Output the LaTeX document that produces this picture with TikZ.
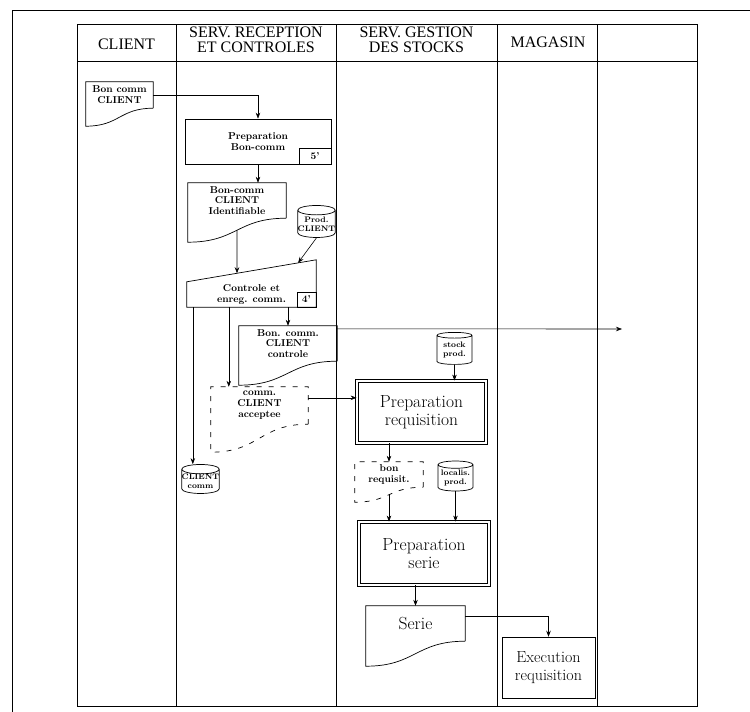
\documentclass[tikz,border=0pt]{standalone}
\usepackage{fontspec}
\newfontfamily\headfont{Liberation Serif}
\usetikzlibrary{calc, positioning}
\usetikzlibrary{arrows.meta}
\usetikzlibrary{shapes.geometric}

% outline of a document symbol round node #2, wave dropping #3 below it
\newcommand{\docoutline}[3][]{%
  \draw[line width=0.7pt, #1] (#2.south east) -- (#2.north east) -- (#2.north west)
    -- ($(#2.south west)+(0,#3)$)
    .. controls ($(#2.south west)!0.5!(#2.south east)+(0,#3)$)
    and ($(#2.south west)!0.5!(#2.south east)$) .. (#2.south east);
}

\begin{document}
\begin{tikzpicture}[x=1pt,y=-1pt,
  lane/.style={line width=0.9pt},
  flow/.style={line width=0.6pt, -{Stealth[length=6pt,width=4.5pt]}},
  headtxt/.style={font=\headfont\fontsize{16}{14.5}\selectfont, align=center},
  smalltxt/.style={font=\fontsize{10}{10.8}\selectfont\bfseries, align=center},
  bigtxt/.style={font=\fontsize{17.5}{18}\selectfont, align=center},
  docnode/.style={smalltxt, inner sep=0pt},
  procbox/.style={smalltxt, draw, line width=0.7pt, inner sep=0pt},
  timebox/.style={smalltxt, draw, line width=0.7pt, inner sep=0pt,
    minimum width=32pt, minimum height=16pt, anchor=south east},
  bigbox/.style={bigtxt, draw, double, double distance=2.5pt, line width=0.8pt, inner sep=0pt},
  store/.style={cylinder, shape border rotate=90, aspect=0.25, draw, line width=0.7pt,
    inner sep=0pt, align=center, font=\fontsize{8}{8.8}\selectfont\bfseries},
  dashdoc/.style={dash pattern=on 5pt off 7pt}
]
\useasboundingbox (0,0) rectangle (750,712);

% Page frame
\draw[lane] (12,712) -- (12,10) -- (750,10);

% Swimlanes
\draw[lane] (77,24) rectangle (697,706);
\draw[lane] (77,61) -- (697,61);
\foreach \x in {176,336,497,597}{
  \draw[lane] (\x,24) -- (\x,706);
}
\node[headtxt] (hcli) at (126.5,44) {CLIENT};
\node[headtxt] (hrec) at (256,40) {SERV. RECEPTION\\ET CONTROLES};
\node[headtxt] (hsto) at (416.5,40) {SERV. GESTION\\DES STOCKS};
\node[headtxt] (hmag) at (548,42) {MAGASIN};

% Client
\node[docnode, minimum width=67pt, minimum height=26pt] (bcc) at (119.5,95) {Bon comm\\CLIENT};
\docoutline{bcc}{18}

% Reception et controles
\node[procbox, minimum width=146pt, minimum height=45pt] (prep) at (258,141.5) {Preparation\\Bon-comm};
\node[timebox] (t5) at (prep.south east) {5'};

\node[docnode, minimum width=98pt, minimum height=35pt] (bci) at (237,200.5) {Bon-comm\\CLIENT\\Identifiable};
\docoutline{bci}{24}

\node[store, minimum width=35pt, minimum height=32pt] (pcl) at (316.5,224) {Prod.\\CLIENT};

\node[docnode, minimum width=129pt, minimum height=25pt] (ctl) at (251.5,294.5) {Controle et\\enreg. comm.};
\draw[line width=0.7pt] (ctl.south west) -- (ctl.north west)
  -- coordinate[pos=0.388] (ctla) coordinate[pos=0.86] (ctlb) ($(ctl.north east)+(0,-22)$)
  -- (ctl.south east) -- cycle;
\node[timebox, minimum width=19pt, minimum height=15pt] (t4) at (ctl.south east) {4'};

\node[docnode, minimum width=98pt, minimum height=35pt] (bcc2) at (288,343.5) {Bon. comm.\\CLIENT\\controle};
\docoutline{bcc2}{24}

\node[docnode, minimum width=97pt, minimum height=37pt] (acc) at (259.5,405.5) {comm.\\CLIENT\\acceptee};
\docoutline[dashdoc]{acc}{28}

\node[store, minimum width=35pt, minimum height=29pt] (ccm) at (200.5,481.5) {CLIENT\\comm};

% Gestion des stocks
\node[store, minimum width=35pt, minimum height=32pt] (spr) at (454.5,350) {stock\\prod.};
\node[bigbox, minimum width=129pt, minimum height=62pt] (prq) at (421.5,412) {Preparation\\requisition};

\node[docnode, minimum width=68pt, minimum height=25pt] (brq) at (389,474.5) {bon\\requisit.};
\docoutline[dashdoc]{brq}{15}
\node[store, minimum width=35pt, minimum height=30pt] (lpr) at (455.5,478) {localis.\\prod.};

\node[bigbox, minimum width=130pt, minimum height=63pt] (prs) at (424,553.5) {Preparation\\serie};

\node[docnode, bigtxt, minimum width=99pt, minimum height=35pt] (ser) at (415.5,623.5) {Serie};
\docoutline{ser}{25}

% Magasin
\node[draw, line width=0.5pt, inner sep=0pt, align=center, font=\fontsize{16}{18}\selectfont,
  minimum width=93pt, minimum height=61pt] (exe) at (548.5,667.5) {Execution\\requisition};

% Flows
\coordinate (ctlc) at ($(ctl.south west)+(6,0)$);
\coordinate (ctld) at ($(ctl.south west)+(42,0)$);
\coordinate (dest) at (622,329);
\coordinate (acco) at ($(acc.north east)+(0,11)$);
\coordinate (brqo) at ($(brq.south)+(0,7.5)$);
\coordinate (sero) at ($(ser.north east)+(0,10)$);

\draw[flow] (bcc.east) -| (prep.north);
\draw[flow] (prep.south) -- (prep.south |- bci.north);
\draw[flow] ($(bci.south)+(0,12)$) -- (ctla);
\draw[flow] (pcl.south) -- (ctlb);
\draw[flow] (ctlc) -- (ctlc |- ccm.north);
\draw[flow] (ctld) -- (ctld |- acc.north);
\draw[flow] (ctl.south -| bcc2.north) -- (bcc2.north);
\draw[flow] ($(bcc2.north east)+(0,3)$) -- (dest);
\draw[flow] (acco) -- (acco -| prq.west);
\draw[flow] (spr.south) -- (spr.south |- prq.north);
\draw[flow] (prq.south -| brq.north) -- (brq.north);
\draw[flow] (brqo) -- (brqo |- prs.north);
\draw[flow] (lpr.south) -- (lpr.south |- prs.north);
\draw[flow] (ser.north |- prs.south) -- (ser.north);
\draw[flow] (sero) -| (exe.north);
\end{tikzpicture}
\end{document}
